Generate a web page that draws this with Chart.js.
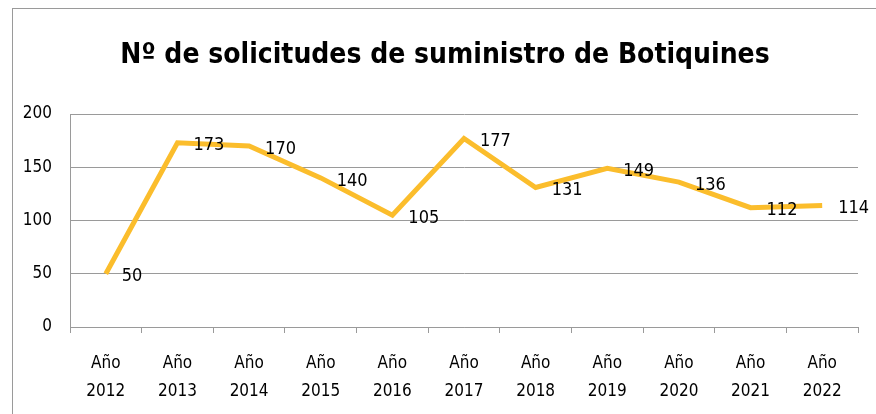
<!DOCTYPE html>
<html><head><meta charset="utf-8">
<script src="https://cdn.jsdelivr.net/npm/chart.js@4"></script>
<style>
html,body{margin:0;padding:0;background:#fff;overflow:hidden}
#wrap{position:absolute;left:0;top:0;width:876px;height:414px}
#frame{position:absolute;left:12px;top:8px;width:900px;height:440px;border:1px solid #9a9a9a;box-sizing:border-box;pointer-events:none}
</style></head>
<body>
<div id="wrap"><canvas id="c" width="876" height="414"></canvas></div>
<div id="frame"></div>
<script>
const titleText = 'Nº de solicitudes de suministro de Botiquines';
const years = ['2012','2013','2014','2015','2016','2017','2018','2019','2020','2021','2022'];
const categories = years.map(y => ['Año', y]);
const solicitudes = [50, 173, 170, 140, 105, 177, 131, 149, 136, 112, 114];
const yTicks = [0, 50, 100, 150, 200];

const FONT = "'DejaVu Sans Condensed','Liberation Sans',sans-serif";

const labelPlugin = {
  id: 'pointLabels',
  afterDatasetsDraw(chart) {
    const ctx = chart.ctx;
    const meta = chart.getDatasetMeta(0);
    ctx.save();
    ctx.font = '18px ' + FONT;
    ctx.fillStyle = '#000';
    ctx.textAlign = 'left';
    ctx.textBaseline = 'middle';
    meta.data.forEach((pt, i) => {
      ctx.fillText(String(solicitudes[i]), pt.x + 16, pt.y + 3);
    });
    ctx.restore();
  }
};

const titlePlugin = {
  id: 'offsetTitle',
  afterDraw(chart) {
    const ctx = chart.ctx;
    ctx.save();
    ctx.font = 'bold 28px ' + FONT;
    ctx.fillStyle = '#000';
    ctx.textAlign = 'center';
    ctx.textBaseline = 'middle';
    ctx.fillText(titleText, 445, 56);
    ctx.restore();
  }
};

new Chart(document.getElementById('c'), {
  type: 'line',
  data: {
    labels: categories,
    datasets: [{
      data: solicitudes,
      borderColor: '#FBBD2C',
      borderWidth: 5,
      pointRadius: 0,
      tension: 0,
      fill: false,
      borderJoinStyle: 'miter'
    }]
  },
  options: {
    responsive: false,
    animation: false,
    devicePixelRatio: 1,
    layout: { padding: { left: 0, right: 18, top: 114, bottom: 4 } },
    plugins: {
      legend: { display: false },
      tooltip: { enabled: false },
      title: { display: false }
    },
    scales: {
      x: {
        offset: true,
        grid: { offset: true, drawOnChartArea: false, drawTicks: true, tickLength: 6, color: '#9a9a9a' },
        border: { color: '#9a9a9a', width: 1 },
        ticks: { color: '#000', font: { family: FONT, size: 17, lineHeight: 1.65 }, maxRotation: 0, autoSkip: false, padding: 17 },
        afterFit(s) { s.height = 83; }
      },
      y: {
        min: 0, max: 200,
        afterBuildTicks(s) { s.ticks = yTicks.map(v => ({ value: v })); },
        grid: { color: '#9a9a9a', drawTicks: false },
        border: { color: '#9a9a9a', width: 1 },
        ticks: { color: '#000', font: { family: FONT, size: 17 }, padding: 18 },
        afterFit(s) { s.width = 70; }
      }
    }
  },
  plugins: [labelPlugin, titlePlugin]
});
</script>
</body></html>
